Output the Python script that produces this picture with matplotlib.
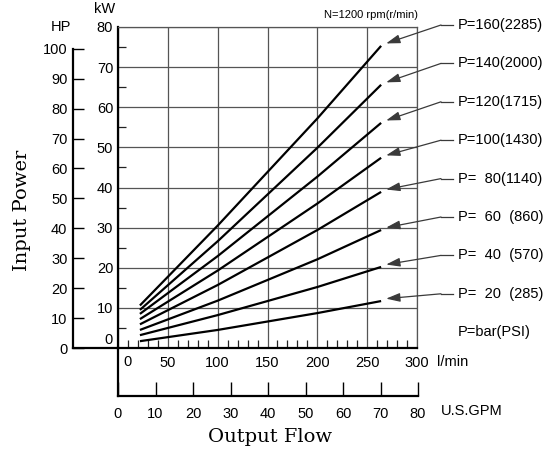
import matplotlib
matplotlib.use("Agg")
import matplotlib.pyplot as plt
from matplotlib.ticker import MultipleLocator
from matplotlib.lines import Line2D

plt.rcParams['font.family'] = ['Liberation Sans', 'DejaVu Sans']

# data: input power (kW) vs output flow (l/min)
flow = [22, 100, 200, 264]
pressures = [160, 140, 120, 100, 80, 60, 40, 20]
kw_160 = [10.6, 30.5, 57.2, 75.3]
kw_140 = [9.5, 26.6, 49.9, 65.6]
kw_120 = [8.5, 22.9, 42.7, 56.1]
kw_100 = [7.2, 19.3, 36.0, 47.4]
kw_80 = [5.9, 15.7, 29.4, 38.9]
kw_60 = [4.5, 11.8, 22.1, 29.4]
kw_40 = [3.2, 8.2, 15.2, 20.2]
kw_20 = [1.7, 4.5, 8.7, 11.7]
curves = [kw_160, kw_140, kw_120, kw_100, kw_80, kw_60, kw_40, kw_20]
labels = ["P=160(2285)", "P=140(2000)", "P=120(1715)", "P=100(1430)",
          "P=  80(1140)", "P=  60  (860)", "P=  40  (570)", "P=  20  (285)"]

lmin_ticks = [0, 50, 100, 150, 200, 250, 300]
kw_ticks = [0, 10, 20, 30, 40, 50, 60, 70, 80]
hp_ticks = [0, 10, 20, 30, 40, 50, 60, 70, 80, 90, 100]
gpm_ticks = [0, 10, 20, 30, 40, 50, 60, 70, 80]
KW_PER_HP = 0.7457

W, H = 558, 455
def fx(px):
    return px / W
def fy(py):
    return 1 - py / H

fig = plt.figure(figsize=(W / 100, H / 100), dpi=100)
fig.patch.set_facecolor("white")
fs = 10.5
grid_c = "#555555"

# main axes (l/min vs kW)
ax = fig.add_axes([fx(118), fy(348), fx(417) - fx(118), fy(27) - fy(348)])
ax.set_xlim(0, 300)
ax.set_ylim(0, 80)
ax.set_xticks(lmin_ticks)
ax.set_xticklabels([""] + [str(t) for t in lmin_ticks[1:]])
ax.set_yticks(kw_ticks)
ax.set_yticklabels([""] + [str(t) for t in kw_ticks[1:]])
ax.xaxis.set_minor_locator(MultipleLocator(10))
ax.yaxis.set_minor_locator(MultipleLocator(5))
ax.grid(True, which="major", color=grid_c, lw=0.9)
ax.set_axisbelow(True)
ax.tick_params(which="major", length=0, labelsize=fs)
ax.tick_params(axis="x", which="major", pad=5.5)
ax.tick_params(axis="y", which="major", pad=3.5)
ax.tick_params(which="minor", direction="in", length=6, width=0.9, color="#222222")
for s in ["top", "right"]:
    ax.spines[s].set_color(grid_c)
    ax.spines[s].set_linewidth(0.9)
for s in ["left", "bottom"]:
    ax.spines[s].set_color("black")
    ax.spines[s].set_linewidth(1.6)
ax.annotate("0", xy=(0, 0), xycoords="data", xytext=(9, -14), textcoords="offset pixels",
            ha="center", va="center", fontsize=fs, annotation_clip=False)
ax.annotate("0", xy=(0, 0), xycoords="data", xytext=(-5, 8), textcoords="offset pixels",
            ha="right", va="center", fontsize=fs, annotation_clip=False)

for kw in curves:
    ax.plot(flow, kw, color="black", lw=1.6, zorder=3, solid_capstyle="butt")

# leader arrows and labels
for i, (kw, lab) in enumerate(zip(curves, labels)):
    ly = 25 + 38.4 * i
    ax.annotate("", xy=(flow[-1] + 5, kw[-1] + 0.6), xycoords="data",
                xytext=(fx(441), fy(ly)), textcoords="figure fraction",
                arrowprops=dict(arrowstyle="-|>,head_length=0.7,head_width=0.22",
                                color="#3a3a3a", lw=0.9, shrinkA=0, shrinkB=0,
                                mutation_scale=12),
                annotation_clip=False)
    fig.add_artist(Line2D([fx(441), fx(453)], [fy(ly), fy(ly)], color="#3a3a3a", lw=0.9,
                          transform=fig.transFigure))
    fig.text(fx(458), fy(ly), lab, ha="left", va="center", fontsize=fs)
fig.text(fx(458), fy(332), "P=bar(PSI)", ha="left", va="center", fontsize=fs)

# HP scale
hp = fig.add_axes([fx(73), fy(348), fx(118) - fx(73), fy(27) - fy(348)])
hp.set_ylim(0, 80 / KW_PER_HP)
hp.set_xlim(0, 1)
hp.patch.set_visible(False)
hp.spines["top"].set_visible(False)
hp.spines["right"].set_visible(False)
hp.spines["left"].set_bounds(0, 100)
for s in ["left", "bottom"]:
    hp.spines[s].set_linewidth(1.6)
hp.set_yticks(hp_ticks)
hp.set_xticks([])
hp.tick_params(axis="y", direction="in", length=8, width=1, pad=4, labelsize=fs)

# U.S.GPM scale
g = fig.add_axes([fx(118), fy(396), fx(418) - fx(118), fy(348) - fy(396)])
g.set_xlim(0, 80)
g.set_ylim(0, 1)
g.patch.set_visible(False)
g.spines["top"].set_visible(False)
g.spines["right"].set_visible(False)
for s in ["left", "bottom"]:
    g.spines[s].set_linewidth(1.6)
g.set_xticks(gpm_ticks)
g.set_yticks([])
g.tick_params(axis="x", direction="in", length=10, width=1, pad=8, labelsize=fs)

# unit and axis titles
fig.text(fx(437), fy(362), "l/min", ha="left", va="center", fontsize=fs)
fig.text(fx(441), fy(411), "U.S.GPM", ha="left", va="center", fontsize=fs)
fig.text(fx(105), fy(9), "kW", ha="center", va="center", fontsize=fs)
fig.text(fx(61), fy(27), "HP", ha="center", va="center", fontsize=fs)
fig.text(fx(418), fy(15), "N=1200 rpm(r/min)", ha="right", va="center", fontsize=8)
fig.text(fx(270), fy(437), "Output Flow", ha="center", va="center",
         family="DejaVu Serif", fontsize=14)
fig.text(fx(22), fy(210), "Input Power", ha="center", va="center", rotation=90,
         family="DejaVu Serif", fontsize=14)

fig.savefig("out.png", dpi=100)
